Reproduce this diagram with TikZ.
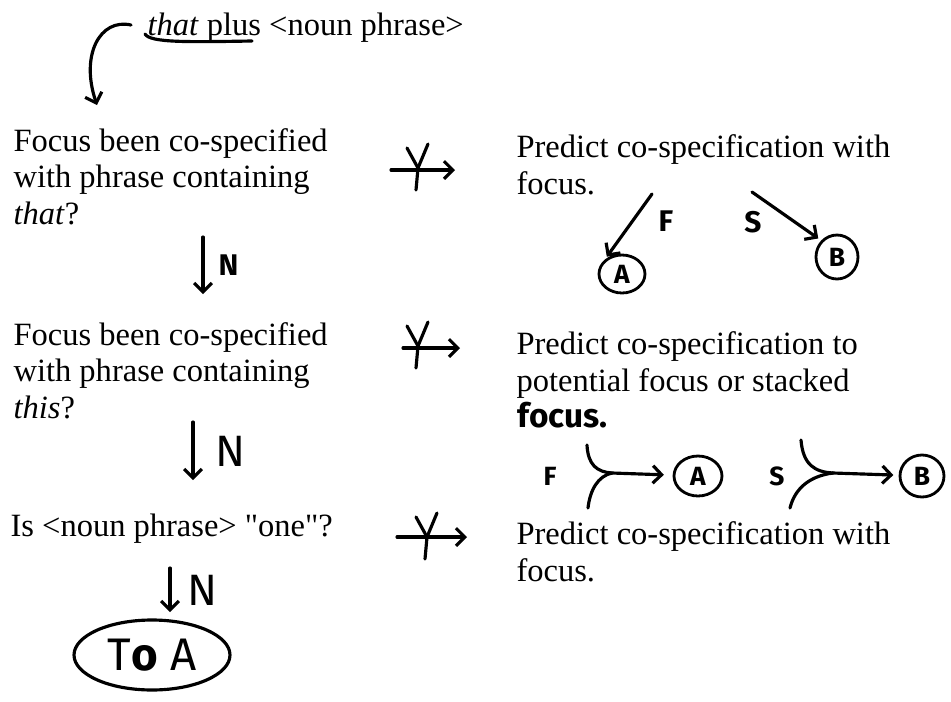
\documentclass[tikz,border=0pt]{standalone}
\usepackage{fontspec}
\setmainfont{Liberation Serif}
\newfontfamily\handfont{Fira Sans}
\usetikzlibrary{positioning, arrows.meta, calc, shapes.geometric}

\begin{document}
\begin{tikzpicture}[
    x=0.02cm, y=-0.02cm,        % 1 unit = 1 px of the scan, y downwards
    line width=1.8pt,
    line cap=round, line join=round,
    >={Straight Barb[length=5pt, width=10pt]},
    font=\fontsize{18.5}{20.5}\selectfont,
    txt/.style={anchor=base west, align=left, inner sep=0pt},   % base = last line
    hand/.style={font=\handfont\bfseries\fontsize{17}{17}\selectfont, inner sep=0pt},
    ring/.style={draw, ellipse, inner sep=0pt, line width=1.6pt,
                 font=\handfont\bfseries\fontsize{15}{15}\selectfont},
    yesmark/.pic={
        \draw (-11,-20) -- (0,0);
        \draw (10,-24) -- (0,0) -- (-2,22);
    }
]
    \useasboundingbox (0,0) rectangle (951,701);

    % --- start ---
    \node[txt] (start) at (146,35) {\textit{that} plus <noun phrase>};
    \draw (145,34) .. controls (150,43) and (190,42) .. (252,41);
    \coordinate (st1) at (131,25);
    \coordinate (st2) at (97,105);
    \draw[->] (st1) .. controls (100,18) and (80,55) .. (st2);

    % --- questions (left column) ---
    \node[txt] (q1) at (12,224) {Focus been co-specified\\with phrase containing\\\textit{that}?};
    \node[txt] (q2) at (12,418) {Focus been co-specified\\with phrase containing\\\textit{this}?};
    \node[txt] (q3) at (9,536) {Is <noun phrase> \textquotedbl one\textquotedbl?};

    % --- predictions (right column) ---
    \node[txt] (r1) at (515,194) {Predict co-specification with\\focus.};
    \node[txt] (r2) at (515,391) {Predict co-specification to\\potential focus or stacked};
    \node[txt, hand, font=\handfont\bfseries\fontsize{19}{19}\selectfont] (r2b) at (516,427) {focus.};
    \node[txt] (r3) at (515,581) {Predict co-specification with\\focus.};

    % --- Y arrows ---
    \coordinate (y1a) at (391,170);
    \coordinate (y1b) at (455,170);
    \draw[->] (y1a) -- (y1b);
    \pic at (418,168) {yesmark};

    \coordinate (y2a) at (403,348);
    \coordinate (y2b) at (460,348);
    \draw[->] (y2a) -- (y2b);
    \pic at (418,346) {yesmark};

    \coordinate (y3a) at (397,537);
    \coordinate (y3b) at (467,537);
    \draw[->] (y3a) -- (y3b);
    \pic at (427,537) {yesmark};

    % --- N arrows ---
    \coordinate (n1a) at (203,237);
    \coordinate (n1b) at (203,294);
    \draw[->] (n1a) -- (n1b) node[hand, midway, right=8pt] (lblN1) {N};

    \coordinate (n2a) at (193,422);
    \coordinate (n2b) at (193,480);
    \draw[->] (n2a) -- (n2b) node[hand, midway, right=12pt, font=\handfont\fontsize{25}{25}\selectfont] (lblN2) {N};

    \coordinate (n3a) at (170,568);
    \coordinate (n3b) at (170,612);
    \draw[->] (n3a) -- (n3b) node[hand, midway, right=9pt, font=\handfont\fontsize{25}{25}\selectfont] (lblN3) {N};

    \node[draw, ellipse, minimum width=3.12cm, minimum height=1.4cm,
          font=\handfont\fontsize{26}{26}\selectfont] (toA) at (152,655) {T\textbf{o} A};

    % --- branches of the first prediction ---
    \node[ring, minimum width=0.92cm, minimum height=0.76cm] (ringA1) at (622,274) {A};
    \node[ring, minimum width=0.84cm, minimum height=0.88cm] (ringB1) at (837,257) {B};
    \coordinate (fa1) at (652,194);
    \coordinate (sb1) at (752,192);
    \draw[->, shorten >=2pt] (fa1) -- (ringA1.north west);
    \draw[->, shorten >=2pt] (sb1) -- (ringB1.north west);
    \node[hand] (lblF1) at (666,221) {F};
    \node[hand] (lblS1) at (753,222) {S};

    % --- branches of the second prediction ---
    \node[ring, minimum width=0.96cm, minimum height=0.8cm] (ringA2) at (698,476) {A};
    \node[ring, minimum width=0.88cm, minimum height=0.84cm] (ringB2) at (922,476) {B};
    \node[hand, font=\handfont\bfseries\fontsize{15}{15}\selectfont] (lblF2) at (550,476) {F};
    \node[hand, font=\handfont\bfseries\fontsize{15}{15}\selectfont] (lblS2) at (777,476) {S};
    \coordinate (mA) at (612,473);
    \coordinate (mB) at (833,473);
    \draw (587,445) .. controls (588,465) and (597,472) .. (mA);
    \draw (588,508) .. controls (590,490) and (598,476) .. (mA);
    \draw[->, shorten >=5pt] (mA) -- (ringA2);
    \draw (801,440) .. controls (803,465) and (815,472) .. (mB);
    \draw (790,508) .. controls (795,488) and (810,476) .. (mB);
    \draw[->, shorten >=3pt] (mB) -- (ringB2);

\end{tikzpicture}
\end{document}
